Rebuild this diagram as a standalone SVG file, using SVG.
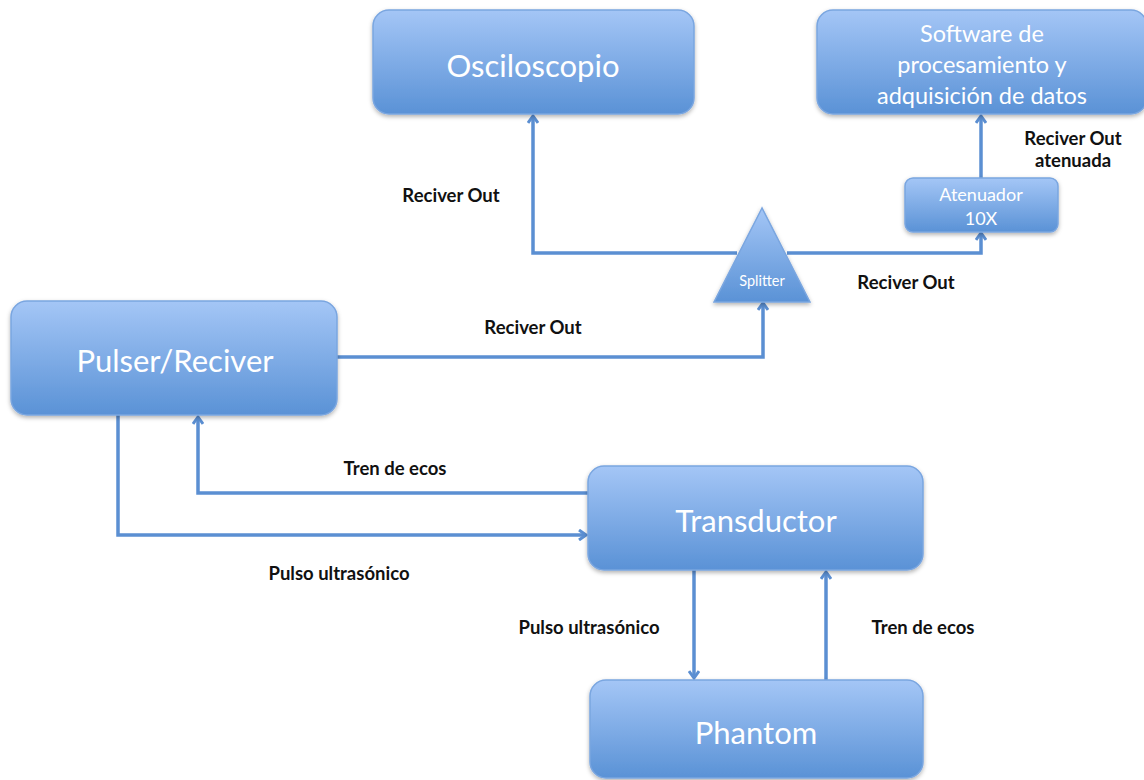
<svg xmlns="http://www.w3.org/2000/svg" width="1144" height="780" viewBox="0 0 1144 780">
<defs>
<linearGradient id="g" x1="0" y1="0" x2="0" y2="1">
<stop offset="0" stop-color="#a4c6f6"/>
<stop offset="1" stop-color="#5a92d6"/>
</linearGradient>
<filter id="sh" x="-10%" y="-10%" width="120%" height="130%">
<feDropShadow dx="0" dy="2" stdDeviation="2" flood-color="#000" flood-opacity="0.3"/>
</filter>
<marker id="ar" markerWidth="12" markerHeight="12" viewBox="0 0 12 12" refX="10" refY="6" orient="auto" markerUnits="userSpaceOnUse">
<path d="M3 1 L10 6 L3 11" fill="none" stroke="#5b8fd2" stroke-width="3"/>
</marker>
</defs>
<style>
.n{fill:url(#g);stroke:#7aa6e0;stroke-width:1.5;filter:url(#sh)}
.t{font-family:Lato,"Open Sans",sans-serif;fill:#fff;text-anchor:middle}
.l{font-family:Lato,"Open Sans",sans-serif;font-weight:bold;font-size:18.5px;fill:#111;text-anchor:middle}
.c{fill:none;stroke:#5b8fd2;stroke-width:3.5}
</style>
<rect width="1144" height="780" fill="#fff"/>
<g id="connectors">
<path class="c" d="M737 253 H533 V116" marker-end="url(#ar)"/>
<path class="c" d="M787 253 H981 V233" marker-end="url(#ar)"/>
<path class="c" d="M981 178 V116" marker-end="url(#ar)"/>
<path class="c" d="M337 357 H763 V303" marker-end="url(#ar)"/>
<path class="c" d="M588 493 H198 V417" marker-end="url(#ar)"/>
<path class="c" d="M118 415 V535 H586" marker-end="url(#ar)"/>
<path class="c" d="M694 570 V678" marker-end="url(#ar)"/>
<path class="c" d="M826 680 V572" marker-end="url(#ar)"/>
<text class="l" x="451" y="202">Reciver Out</text>
<text class="l" x="533" y="334">Reciver Out</text>
<text class="l" x="906" y="289">Reciver Out</text>
<text class="l" x="1073" y="145">Reciver Out</text>
<text class="l" x="1073" y="167">atenuada</text>
<text class="l" x="395" y="475">Tren de ecos</text>
<text class="l" x="339" y="580">Pulso ultrasónico</text>
<text class="l" x="589" y="634">Pulso ultrasónico</text>
<text class="l" x="923" y="634">Tren de ecos</text>
</g>
<g id="osciloscopio">
<rect class="n" x="373" y="10" width="321" height="104" rx="16"/>
<text class="t" x="533" y="77" font-size="31">Osciloscopio</text>
</g>
<g id="software">
<rect class="n" x="817" y="10" width="330" height="104" rx="16"/>
<text class="t" x="982" y="42" font-size="23.5">Software de</text>
<text class="t" x="982" y="73" font-size="23.5">procesamiento y</text>
<text class="t" x="982" y="104" font-size="23.5">adquisición de datos</text>
</g>
<g id="atenuador">
<rect class="n" x="905" y="178" width="153" height="54" rx="8"/>
<text class="t" x="981" y="201" font-size="18">Atenuador</text>
<text class="t" x="981" y="225" font-size="18">10X</text>
</g>
<g id="splitter">
<polygon class="n" points="762,208 714,302 810,302"/>
<text class="t" x="762" y="286" font-size="14.5">Splitter</text>
</g>
<g id="pulser">
<rect class="n" x="11" y="301" width="326" height="114" rx="16"/>
<text class="t" x="175" y="372" font-size="31">Pulser/Reciver</text>
</g>
<g id="transductor">
<rect class="n" x="588" y="466" width="335" height="104" rx="16"/>
<text class="t" x="756" y="532" font-size="31">Transductor</text>
</g>
<g id="phantom">
<rect class="n" x="590" y="680" width="333" height="98" rx="16"/>
<text class="t" x="756" y="744" font-size="31">Phantom</text>
</g>
</svg>
